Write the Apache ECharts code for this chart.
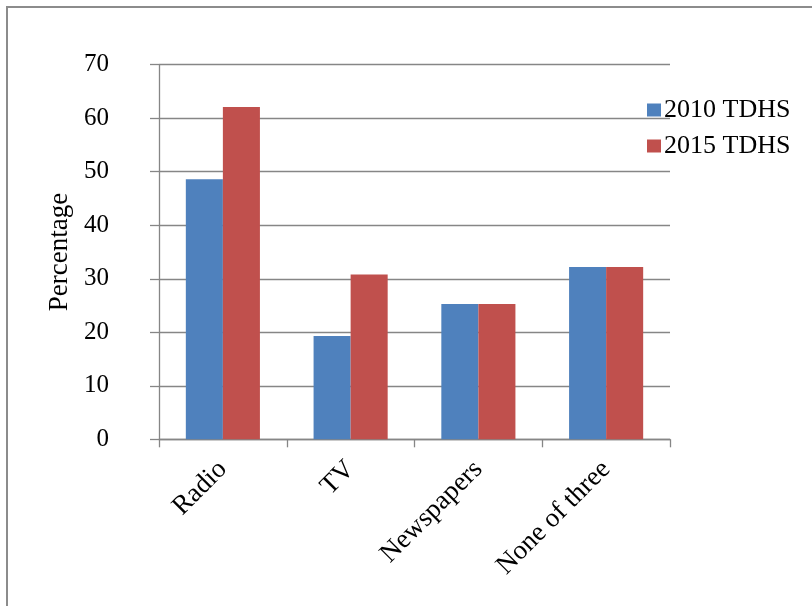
<!DOCTYPE html>
<html>
<head>
<meta charset="utf-8">
<script src="https://cdn.jsdelivr.net/npm/echarts@6/dist/echarts.min.js"></script>
<style>
html,body{margin:0;padding:0;background:#fff;}
#c{width:812px;height:606px;}
</style>
</head>
<body>
<div id="c"></div>
<script>
var categories = ['Radio', 'TV', 'Newspapers', 'None of three'];
var series2010 = [48.6, 19.3, 25.3, 32.2];
var series2015 = [62.1, 30.8, 25.3, 32.2];
var seriesNames = ['2010 TDHS', '2015 TDHS'];
var yTicks = {min: 0, max: 70, interval: 10};

var FONT = '"Liberation Serif", "DejaVu Serif", serif';
var GREY = '#868686';

var chart = echarts.init(document.getElementById('c'), null, {renderer: 'canvas'});
chart.setOption({
  animation: false,
  backgroundColor: '#fff',
  graphic: [{
    type: 'rect',
    shape: {x: 7, y: 7, width: 830, height: 640},
    style: {fill: 'none', stroke: '#8c8c8c', lineWidth: 2},
    silent: true
  }],
  legend: {
    orient: 'vertical',
    left: 642,
    top: 92,
    itemWidth: 14,
    itemHeight: 13,
    itemGap: 10,
    icon: 'rect',
    textStyle: {fontFamily: FONT, fontSize: 26, color: '#000', padding: [0, 0, 0, -2]},
    data: seriesNames
  },
  grid: {left: 159, right: 142, top: 64.7, bottom: 166.7, containLabel: false},
  xAxis: {
    type: 'category',
    data: categories,
    axisLine: {show: true, lineStyle: {color: GREY, width: 1.3}},
    axisTick: {show: true, length: 8, lineStyle: {color: GREY, width: 1.3}},
    axisLabel: {rotate: 45, margin: 26, fontFamily: FONT, fontSize: 27, color: '#000', interval: 0},
    splitLine: {show: false}
  },
  yAxis: {
    type: 'value',
    min: yTicks.min, max: yTicks.max, interval: yTicks.interval,
    name: 'Percentage',
    nameLocation: 'middle',
    nameGap: 86,
    nameTextStyle: {fontFamily: FONT, fontSize: 27, color: '#000'},
    axisLine: {show: true, lineStyle: {color: GREY, width: 1.3}},
    axisTick: {show: true, length: 9, lineStyle: {color: GREY, width: 1.3}},
    axisLabel: {margin: 50, fontFamily: FONT, fontSize: 25, color: '#000'},
    splitLine: {show: true, lineStyle: {color: GREY, width: 1.3}}
  },
  series: [
    {name: seriesNames[0], type: 'bar', data: series2010, barGap: '0%', barCategoryGap: '42%',
     itemStyle: {color: '#4F81BD'}},
    {name: seriesNames[1], type: 'bar', data: series2015, barGap: '0%', barCategoryGap: '42%',
     itemStyle: {color: '#C0504D'}}
  ]
});
</script>
</body>
</html>
